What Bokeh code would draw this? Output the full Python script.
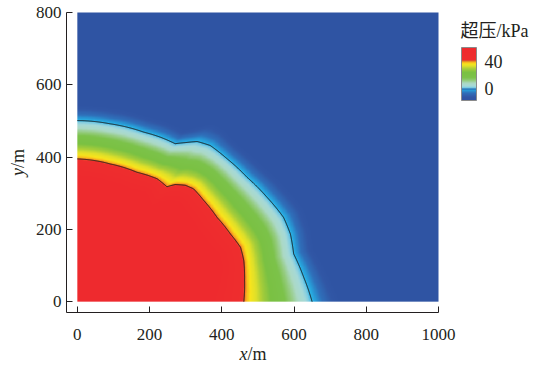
import numpy as np
from bokeh.plotting import figure
from bokeh.models import (LinearColorMapper, ColorBar, FixedTicker, Label,
                          LinearAxis, Range1d)
from bokeh.embed import file_html
from bokeh.resources import INLINE

# ---------------- data ----------------
x_extent = [0, 1000]
y_extent = [0, 800]
x_ticks = [0, 200, 400, 600, 800, 1000]
y_ticks = [0, 200, 400, 600, 800]
axis_origin = -30  # where the offset axes sit (data units)

# 40 kPa contour (inner front)
c40_x = [0, 91, 165, 221, 248, 271, 299, 322, 350, 387, 424, 452, 461, 463, 461]
c40_y = [395, 381, 358, 340, 318, 324, 322, 312, 280, 233, 187, 150, 113, 58, 0]
# 0 kPa contour (outer front)
c0_x = [0, 91, 184, 230, 271, 299, 332, 368, 415, 470, 525, 571, 590, 599, 627, 650]
c0_y = [501, 492, 469, 455, 437, 440, 443, 432, 395, 344, 289, 233, 187, 132, 67, 0]
contour_levels = [0, 40]

cbar_range = [-17, 60]
cbar_ticks = [0, 40]
cbar_title = "超压/kPa"

# ---------------- colour map ----------------
stops = [(-17, "#2f54a3"), (-12, "#3157a6"), (-6, "#2f70ba"), (-2, "#27a0da"),
         (0, "#2db6e8"), (1.5, "#7ccbe3"), (4, "#a6d9d8"), (8, "#acd9c6"),
         (12, "#95cc7f"), (16, "#7cc24a"), (24, "#7ac143"), (29, "#a6cd3a"),
         (33, "#dfe02a"), (36.5, "#f9e51c"), (38.7, "#f8b41d"), (40, "#f0712a"),
         (41, "#ee2e2e"), (60, "#ee2a2e")]


def hex2rgb(h):
    return [int(h[i:i + 2], 16) for i in (1, 3, 5)]


sv = np.array([s[0] for s in stops], float)
sc = np.array([hex2rgb(s[1]) for s in stops], float)
N = 256
vals = np.linspace(cbar_range[0], cbar_range[1], N)
rgb = np.stack([np.interp(vals, sv, sc[:, k]) for k in range(3)], axis=1)
palette = ["#%02x%02x%02x" % tuple(int(round(c)) for c in row) for row in rgb]

# palette for the legend bar, with the contour levels marked
bar_palette = list(palette)
for i, v in enumerate(vals):
    if abs(v - 40) < 0.6:
        bar_palette[i] = "#d5702c"
    elif abs(v - 0) < 0.6:
        bar_palette[i] = "#2a5fab"

mapper = LinearColorMapper(palette=palette, low=cbar_range[0], high=cbar_range[1])
bar_mapper = LinearColorMapper(palette=bar_palette, low=cbar_range[0], high=cbar_range[1])


# ---------------- field from the two contours ----------------
def polar(xs, ys):
    xs = np.asarray(xs, float)
    ys = np.asarray(ys, float)
    th = np.arctan2(ys, xs)
    r = np.hypot(xs, ys)
    o = np.argsort(th)
    return th[o], r[o]


th40, r40s = polar(c40_x, c40_y)
th0, r0s = polar(c0_x, c0_y)

gx = np.linspace(x_extent[0], x_extent[1], 501)
gy = np.linspace(y_extent[0], y_extent[1], 401)
X, Y = np.meshgrid(gx, gy)
TH = np.arctan2(Y, X)
R = np.hypot(X, Y)
R40 = np.interp(TH, th40, r40s)
R0 = np.interp(TH, th0, r0s)
P = contour_levels[1] * (R0 - R) / (R0 - R40)
P = np.clip(P, cbar_range[0], cbar_range[1])

# ---------------- figure (frame = whole canvas, axes placed inside) ----------------
W, H = 533, 366
frame_l, frame_r, frame_t, frame_b = 66, 438, 12, 312  # pixel box of the axes
sx = (frame_r - frame_l) / (x_extent[1] - axis_origin)
sy = (frame_b - frame_t) / (y_extent[1] - axis_origin)
xr = Range1d(axis_origin - frame_l / sx, x_extent[1] + (W - frame_r) / sx)
yr = Range1d(axis_origin - (H - frame_b) / sy, y_extent[1] + frame_t / sy)

p = figure(width=W, height=H, x_range=xr, y_range=yr,
           output_backend="svg", toolbar_location=None,
           x_axis_location=None, y_axis_location=None,
           min_border=0, min_border_left=0, min_border_right=0,
           min_border_top=0, min_border_bottom=0)
p.outline_line_color = None
p.grid.visible = False
p.background_fill_color = "white"
p.border_fill_color = "white"

p.image(image=[P], x=x_extent[0], y=y_extent[0], dw=x_extent[1] - x_extent[0],
        dh=y_extent[1] - y_extent[0], color_mapper=mapper)

tt = np.linspace(0, np.pi / 2, 600)
for th_s, r_s in ((th40, r40s), (th0, r0s)):
    rr = np.interp(tt, th_s, r_s)
    p.line(rr * np.cos(tt), rr * np.sin(tt), line_color="#1a1a1a", line_width=1)

serif = "Liberation Serif"
xaxis = LinearAxis(fixed_location=axis_origin, bounds=(axis_origin, x_extent[1]),
                   ticker=FixedTicker(ticks=x_ticks))
yaxis = LinearAxis(fixed_location=axis_origin, bounds=(axis_origin, y_extent[1]),
                   ticker=FixedTicker(ticks=y_ticks))
for ax in (xaxis, yaxis):
    ax.major_tick_in = 6
    ax.major_tick_out = 0
    ax.minor_tick_line_color = None
    ax.axis_line_color = "#231f20"
    ax.major_tick_line_color = "#231f20"
    ax.major_label_text_font = serif
    ax.major_label_text_font_size = "17px"
    ax.major_label_text_color = "#231f20"
xaxis.major_label_standoff = 16
yaxis.major_label_standoff = 5
p.add_layout(xaxis, "below")
p.add_layout(yaxis, "left")

# axis titles: italic variable + upright unit
lab_kw = dict(text_font=serif, text_font_size="18px", text_color="#231f20",
              text_baseline="middle")
p.add_layout(Label(x=471, y=-144, text="x", text_align="right",
                   text_font_style="italic", **lab_kw))
p.add_layout(Label(x=471, y=-144, text="/m", text_align="left", **lab_kw))
p.add_layout(Label(x=-163, y=370, text="y", text_align="right", angle=np.pi / 2,
                   text_font_style="italic", **lab_kw))
p.add_layout(Label(x=-163, y=370, text="/m", text_align="left", angle=np.pi / 2,
                   **lab_kw))
p.add_layout(Label(x=1061, y=750, text=cbar_title,
                   text_font="Liberation Serif, Noto Sans CJK SC",
                   text_font_size="18px", text_color="#231f20",
                   text_baseline="middle", text_align="left"))

cb = ColorBar(color_mapper=bar_mapper, ticker=FixedTicker(ticks=cbar_ticks),
              width=15, height=53, padding=0, margin=0,
              location=(461, 266),
              background_fill_alpha=0, border_line_alpha=0,
              bar_line_color="#8a8a8a", bar_line_width=1,
              major_tick_line_color=None, minor_tick_line_color=None,
              major_label_text_font=serif, major_label_text_font_size="18px",
              major_label_text_color="#231f20", label_standoff=8)
p.add_layout(cb)

open("out.html", "w").write(file_html(p, INLINE))
